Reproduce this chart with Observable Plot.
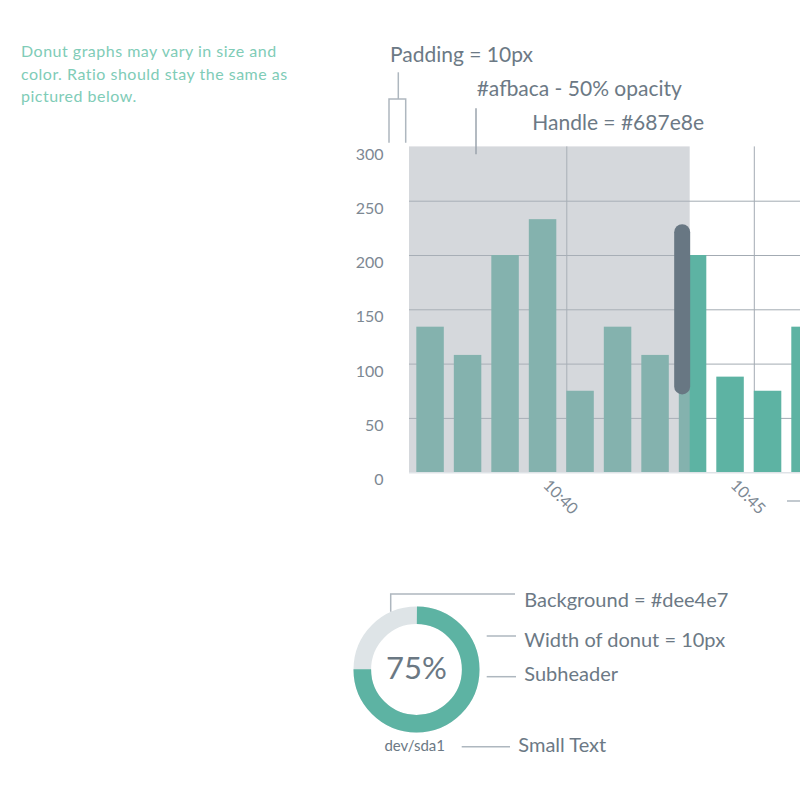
<!DOCTYPE html>
<html><head><meta charset="utf-8">
<script src="https://cdn.jsdelivr.net/npm/d3@7"></script>
<script src="https://cdn.jsdelivr.net/npm/@observablehq/plot@0.6"></script>
<style>
html,body{margin:0;padding:0;background:#fff;overflow:hidden;}
#page{position:relative;width:800px;height:800px;font-family:Lato, sans-serif;}
#bars{position:absolute;left:340px;top:130px;}
#donut{position:absolute;left:346.3px;top:599.3px;}
#notes{position:absolute;left:0;top:0;pointer-events:none;}
svg{overflow:hidden;}
</style></head><body><div id="page"><div id="bars"></div><div id="donut"></div></div>
<script>
// ---- data ----
const minutes = [636, 637, 638, 639, 640, 641, 642, 643, 644, 645, 646]; // 10:36 ... 10:46
const values = [134, 108, 200, 233, 75, 134, 108, 200, 88, 75, 134];
const yTicks = [0, 50, 100, 150, 200, 250, 300];
const yGrid = [50, 100, 150, 200, 250];
const xTicks = [640, 645];
const xDomain = [635.805, 646.232];
const brushExtent = [635.805, 643.29];
const handleRange = [79, 221];
const donutPct = [75];
const donutLabel = "dev/sda1";
const introLines = ["Donut graphs may vary in size and", "color. Ratio should stay the same as", "pictured below."];

const fmtTime = m => `${Math.floor(m / 60)}:${String(m % 60).padStart(2, "0")}`;
const teal = "#5db3a3";
const gridColor = "#a3abb3";
const labelColor = "#7d8893";

const data = minutes.map((m, i) => ({m, v: values[i]}));

const chart = Plot.plot({
  width: 460, height: 400,
  marginLeft: 69, marginRight: 0, marginTop: 16.4, marginBottom: 57.8,
  style: {fontFamily: "Lato, sans-serif", fontSize: "16px", color: labelColor, background: "transparent"},
  x: {domain: xDomain, axis: null},
  y: {domain: [0, 300], axis: null},
  marks: [
    Plot.ruleX(xTicks, {stroke: gridColor, strokeWidth: 1}),
    Plot.ruleY(yGrid, {stroke: gridColor, strokeWidth: 1}),
    Plot.rectY(data, {x1: "m", x2: d => d.m + 1, y: "v", insetRight: 10, fill: teal, clip: true}),
    Plot.rect([brushExtent], {x1: d => d[0], x2: d => d[1], y1: 0, y2: 300, fill: "#abb2b9", fillOpacity: 0.5}),
    Plot.ruleY([0], {stroke: "#dfe3e7", strokeWidth: 1.5}),
    Plot.ruleX([brushExtent[1]], {y1: handleRange[0], y2: handleRange[1], dx: -8, stroke: "#687783", strokeWidth: 16, strokeLinecap: "round"}),
    Plot.text(yTicks, {y: d => d, text: d => String(d), frameAnchor: "left", textAnchor: "end", dx: -26, dy: 7.5, fill: labelColor, fontSize: 16}),
    Plot.text(xTicks, {x: d => d, text: fmtTime, frameAnchor: "bottom", rotate: 45, textAnchor: "middle", dx: -10, dy: 28, fill: labelColor, fontSize: 16})
  ]
});
document.getElementById("bars").appendChild(chart);

// ---- donut ----
const R = 54.2, W = 17.6, C = 2 * Math.PI * R;
const p = donutPct[0] / 100;
const donut = Plot.plot({
  width: 140, height: 140, margin: 0,
  style: {fontFamily: "Lato, sans-serif", background: "transparent"},
  marks: [
    Plot.dot([100], {frameAnchor: "middle", r: R, stroke: "#dee4e7", strokeWidth: W, fill: "none"}),
    Plot.dot(donutPct, {frameAnchor: "middle", r: R, stroke: teal, strokeWidth: W, fill: "none",
      strokeDasharray: `${C * p} ${C * (1 - p)}`, strokeDashoffset: C / 4}),
    Plot.text(donutPct, {frameAnchor: "middle", text: d => d + "%", fontSize: 31, fontWeight: 400, fill: "#6b7883"})
  ]
});
document.getElementById("donut").appendChild(donut);

// ---- annotations ----
const svg = d3.select("#page").append("svg").attr("id", "notes").attr("width", 800).attr("height", 800)
  .style("font-family", "Lato, sans-serif");
const txt = (x, y, s, size, fill, anchor = "start", ls = 0) =>
  svg.append("text").attr("x", x).attr("y", y).attr("font-size", size).attr("fill", fill)
    .attr("text-anchor", anchor).attr("letter-spacing", ls).text(s);
const line = (pts, stroke = "#aeb7bf") =>
  svg.append("path").attr("d", d3.line()(pts)).attr("fill", "none").attr("stroke", stroke).attr("stroke-width", 1.5);

introLines.forEach((s, i) => txt(21, 57 + i * 22.5, s, 16, "#80ccb7", "start", 0.5));
const noteColor = "#6c7985";
txt(390, 62.3, "Padding = 10px", 21, noteColor);
txt(476.7, 95.7, "#afbaca - 50% opacity", 21, noteColor);
txt(532.3, 130, "Handle = #687e8e", 21, noteColor);
line([[398.3, 72.3], [398.3, 99]]);
line([[389, 142.7], [389, 99], [405.7, 99], [405.7, 142.7]]);
line([[476, 108.3], [476, 154.3]], "#9aa3ac");
line([[787, 501], [800, 501]]);

txt(524.3, 606.7, "Background = #dee4e7", 20, noteColor);
txt(524.3, 646.7, "Width of donut = 10px", 20, noteColor);
txt(524.3, 680.7, "Subheader", 20, noteColor);
txt(518.3, 751.7, "Small Text", 20, noteColor);
txt(414.7, 751, donutLabel, 15, "#6c7985", "middle");
line([[390.7, 611.7], [390.7, 594], [515, 594]]);
line([[486.7, 636], [516, 636]]);
line([[486.7, 676.7], [516, 676.7]]);
line([[461.7, 746.7], [510, 746.7]]);
</script></body></html>
